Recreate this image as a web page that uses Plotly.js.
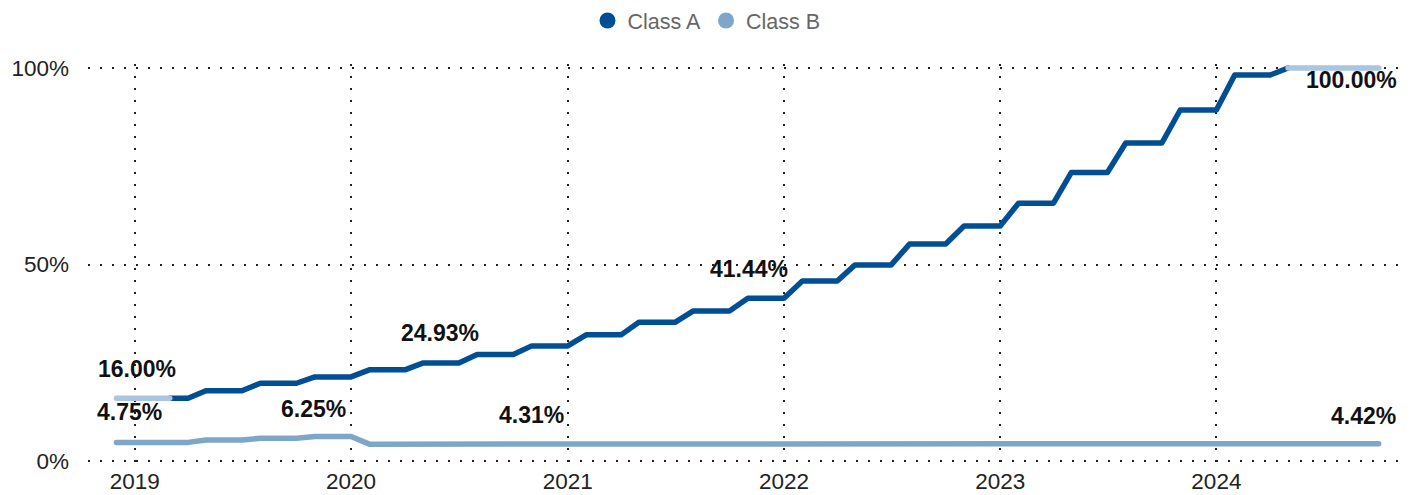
<!DOCTYPE html>
<html>
<head>
<meta charset="utf-8">
<script src="https://cdn.plot.ly/plotly-3.0.1.min.js"></script>
<style>
  html, body { margin: 0; padding: 0; background: #fff; }
  #chart { width: 1413px; height: 495px; }
  .scatterlayer .js-line { stroke-linecap: round; stroke-linejoin: round; }
</style>
</head>
<body>
<div id="chart"></div>
<script>
// Monthly observations, Dec 2018 .. Oct 2024
const months = [
  "2018-12-01",
  "2019-01-01","2019-02-01","2019-03-01","2019-04-01","2019-05-01","2019-06-01","2019-07-01","2019-08-01","2019-09-01","2019-10-01","2019-11-01","2019-12-01",
  "2020-01-01","2020-02-01","2020-03-01","2020-04-01","2020-05-01","2020-06-01","2020-07-01","2020-08-01","2020-09-01","2020-10-01","2020-11-01","2020-12-01",
  "2021-01-01","2021-02-01","2021-03-01","2021-04-01","2021-05-01","2021-06-01","2021-07-01","2021-08-01","2021-09-01","2021-10-01","2021-11-01","2021-12-01",
  "2022-01-01","2022-02-01","2022-03-01","2022-04-01","2022-05-01","2022-06-01","2022-07-01","2022-08-01","2022-09-01","2022-10-01","2022-11-01","2022-12-01",
  "2023-01-01","2023-02-01","2023-03-01","2023-04-01","2023-05-01","2023-06-01","2023-07-01","2023-08-01","2023-09-01","2023-10-01","2023-11-01","2023-12-01",
  "2024-01-01","2024-02-01","2024-03-01","2024-04-01","2024-05-01","2024-06-01","2024-07-01","2024-08-01","2024-09-01","2024-10-01"
];

const classA = [
  16.00,
  16.00,16.00,16.00,16.00,17.90,17.90,17.90,19.80,19.80,19.80,21.40,21.40,
  21.40,23.20,23.20,23.20,24.93,24.93,24.93,27.10,27.10,27.10,29.30,29.30,
  29.30,32.10,32.10,32.10,35.30,35.30,35.30,38.20,38.20,38.20,41.44,41.44,
  41.44,45.80,45.80,45.80,49.90,49.90,49.90,55.20,55.20,55.20,59.80,59.80,
  59.80,65.60,65.60,65.60,73.40,73.40,73.40,80.90,80.90,80.90,89.30,89.30,
  89.30,98.20,98.20,98.20,100.00,100.00,100.00,100.00,100.00,100.00
];

const classB = [
  4.75,
  4.75,4.75,4.75,4.75,5.35,5.35,5.35,5.80,5.80,5.80,6.25,6.25,
  6.25,4.30,4.30,4.30,4.30,4.30,4.30,4.29,4.29,4.29,4.31,4.31,
  4.31,4.33,4.33,4.33,4.35,4.35,4.35,4.34,4.34,4.34,4.36,4.36,
  4.36,4.37,4.37,4.37,4.37,4.37,4.37,4.38,4.38,4.38,4.40,4.40,
  4.40,4.39,4.39,4.39,4.41,4.41,4.41,4.42,4.42,4.42,4.41,4.41,
  4.41,4.42,4.42,4.42,4.42,4.42,4.42,4.42,4.42,4.42
];

const seriesNames = ["Class A", "Class B"];
const yTicks = [0, 50, 100];
const xTicks = ["2019-01-01","2020-01-01","2021-01-01","2022-01-01","2023-01-01","2024-01-01"];
const xTickText = ["2019","2020","2021","2022","2023","2024"];

// Indices of the points carrying value labels
const labelIdxA = [1, 18, 35, 68];
const labelIdxB = [1, 11, 23, 69];
// Indices where Class A is drawn in full colour
const solidFromA = 3, solidToA = 65;

const darkBlue = "#004f94";
const lightA = "#a9c5df";
const midBlue = "#7ea6c9";

const aSolid = classA.map((v, i) => (i >= solidFromA && i <= solidToA) ? v : null);
const aLight = classA.map((v, i) => (i <= solidFromA || i >= solidToA) ? v : null);

const traces = [
  { x: months, y: classB, type: "scatter", mode: "lines", name: seriesNames[1],
    line: { color: midBlue, width: 5.5 }, showlegend: false },
  { x: months, y: aSolid, type: "scatter", mode: "lines", name: seriesNames[0],
    line: { color: darkBlue, width: 5.5 }, showlegend: false, connectgaps: false },
  { x: months, y: aLight, type: "scatter", mode: "lines", name: seriesNames[0],
    line: { color: lightA, width: 5.5 }, showlegend: false, connectgaps: false },
  // legend entries
  { x: [null], y: [null], type: "scatter", mode: "markers", name: seriesNames[0],
    marker: { color: darkBlue, size: 21, symbol: "circle" }, showlegend: true },
  { x: [null], y: [null], type: "scatter", mode: "markers", name: seriesNames[1],
    marker: { color: midBlue, size: 21, symbol: "circle" }, showlegend: true }
];

const labelFont = { family: "Liberation Sans, Arial, sans-serif", size: 23, color: "#111" };
// style offsets per label (pixels)
const shiftA = [[2, 29], [-1, 30], [1, 29], [9, -12]];
const shiftB = [[-5, 30], [-1, 28], [0, 29], [3, 28]];

const annotations = [];
labelIdxA.forEach((idx, k) => {
  annotations.push({ x: months[idx], y: classA[idx], xref: "x", yref: "y",
    text: "<b>" + classA[idx].toFixed(2) + "%</b>", showarrow: false,
    xanchor: "center", yanchor: "middle", xshift: shiftA[k][0], yshift: shiftA[k][1], font: labelFont });
});
labelIdxB.forEach((idx, k) => {
  annotations.push({ x: months[idx], y: classB[idx], xref: "x", yref: "y",
    text: "<b>" + classB[idx].toFixed(2) + "%</b>", showarrow: false,
    xanchor: "center", yanchor: "middle", xshift: shiftB[k][0], yshift: shiftB[k][1], font: labelFont });
});

const layout = {
  width: 1413, height: 495,
  margin: { l: 88, r: 13, t: 64, b: 30 },
  paper_bgcolor: "#ffffff", plot_bgcolor: "#ffffff",
  font: { family: "Liberation Sans, Arial, sans-serif", color: "#222" },
  showlegend: true,
  legend: {
    orientation: "h", xref: "container", yref: "container",
    x: 0.5, xanchor: "center", y: 1.0, yanchor: "top",
    font: { size: 21.5, color: "#666" }, itemwidth: 30, traceorder: "normal"
  },
  xaxis: {
    type: "date", range: ["2018-10-14", "2024-11-06"],
    tickmode: "array", tickvals: xTicks, ticktext: xTickText,
    showgrid: true, gridcolor: "#222", gridwidth: 2, griddash: "2px,10px",
    zeroline: false, showline: false, ticks: "",
    tickfont: { size: 22.5, color: "#222" }, ticklabelstandoff: 0
  },
  yaxis: {
    range: [-1, 101], tickmode: "array", tickvals: yTicks,
    ticktext: yTicks.map(v => v + "%"),
    showgrid: true, gridcolor: "#222", gridwidth: 2, griddash: "2px,10px",
    zeroline: false, showline: false, ticks: "",
    tickfont: { size: 22.5, color: "#222" }, ticklabelstandoff: 18
  },
  annotations: annotations
};

Plotly.newPlot("chart", traces, layout, { staticPlot: true, displayModeBar: false });
</script>
</body>
</html>
